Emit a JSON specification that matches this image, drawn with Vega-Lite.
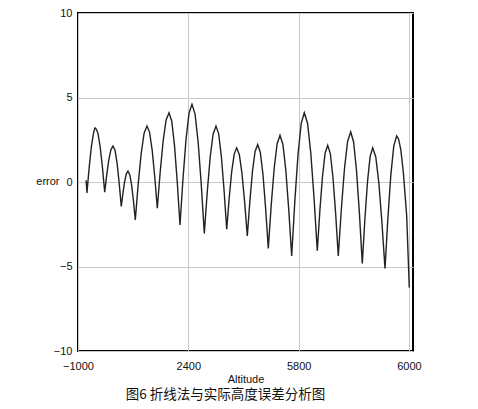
{
  "$schema": "https://vega.github.io/schema/vega-lite/v6.json",
  "width": 335,
  "height": 338,
  "autosize": {"type": "none"},
  "padding": {"left": 78, "top": 13, "right": 65, "bottom": 58},
  "background": "white",
  "title": {
    "text": "图6  折线法与实际高度误差分析图",
    "orient": "bottom",
    "anchor": "middle",
    "dx": -20,
    "offset": 4,
    "font": "Noto Sans CJK SC",
    "fontSize": 13.5,
    "fontWeight": "normal",
    "color": "#111"
  },
  "config": {
    "view": {"stroke": "#000", "strokeWidth": 2},
    "axis": {
      "labelFont": "Liberation Sans",
      "labelFontSize": 11,
      "labelColor": "#111",
      "titleFont": "Liberation Sans",
      "titleFontSize": 11,
      "titleFontWeight": "normal",
      "titleColor": "#111",
      "gridColor": "#c8c8c8",
      "gridWidth": 1,
      "ticks": false,
      "domain": false
    }
  },
  "data": {
    "values": [
      {"a": -750, "e": 0.1}, {"a": -735, "e": -0.3}, {"a": -725, "e": -0.65},
      {"a": -657, "e": 0.82}, {"a": -590, "e": 2.06}, {"a": -522, "e": 2.89}, {"a": -480, "e": 3.2}, {"a": -454, "e": 3.18}, {"a": -420, "e": 3.05}, {"a": -385, "e": 2.89}, {"a": -316, "e": 2.07}, {"a": -246, "e": 0.85},
      {"a": -177, "e": -0.6},
      {"a": -113, "e": 0.45}, {"a": -49, "e": 1.33}, {"a": 15, "e": 1.92}, {"a": 79, "e": 2.13}, {"a": 143, "e": 1.86}, {"a": 207, "e": 1.08}, {"a": 270, "e": -0.08},
      {"a": 334, "e": -1.45},
      {"a": 386, "e": -0.65}, {"a": 438, "e": 0.03}, {"a": 489, "e": 0.48}, {"a": 541, "e": 0.64}, {"a": 597, "e": 0.42}, {"a": 654, "e": -0.2}, {"a": 710, "e": -1.14},
      {"a": 766, "e": -2.24},
      {"a": 856, "e": -0.11}, {"a": 947, "e": 1.68}, {"a": 1037, "e": 2.89}, {"a": 1127, "e": 3.31}, {"a": 1206, "e": 2.94}, {"a": 1286, "e": 1.89}, {"a": 1365, "e": 0.31},
      {"a": 1444, "e": -1.55},
      {"a": 1534, "e": 0.61}, {"a": 1625, "e": 2.44}, {"a": 1715, "e": 3.67}, {"a": 1805, "e": 4.1}, {"a": 1890, "e": 3.6}, {"a": 1975, "e": 2.15}, {"a": 2059, "e": 0.0},
      {"a": 2144, "e": -2.54},
      {"a": 2236, "e": 0.19}, {"a": 2329, "e": 2.51}, {"a": 2421, "e": 4.06}, {"a": 2513, "e": 4.6}, {"a": 2608, "e": 4.02}, {"a": 2703, "e": 2.36}, {"a": 2798, "e": -0.11},
      {"a": 2893, "e": -3.04},
      {"a": 2983, "e": -0.61}, {"a": 3073, "e": 1.45}, {"a": 3163, "e": 2.83}, {"a": 3253, "e": 3.31}, {"a": 3336, "e": 2.85}, {"a": 3418, "e": 1.52}, {"a": 3501, "e": -0.46},
      {"a": 3583, "e": -2.8},
      {"a": 3660, "e": -0.95}, {"a": 3737, "e": 0.61}, {"a": 3814, "e": 1.65}, {"a": 3891, "e": 2.02}, {"a": 3973, "e": 1.62}, {"a": 4055, "e": 0.49}, {"a": 4136, "e": -1.19},
      {"a": 4218, "e": -3.19},
      {"a": 4298, "e": -1.12}, {"a": 4378, "e": 0.64}, {"a": 4458, "e": 1.81}, {"a": 4538, "e": 2.22}, {"a": 4620, "e": 1.75}, {"a": 4702, "e": 0.42}, {"a": 4783, "e": -1.57},
      {"a": 4865, "e": -3.93},
      {"a": 4955, "e": -1.37}, {"a": 5046, "e": 0.8}, {"a": 5136, "e": 2.25}, {"a": 5226, "e": 2.76}, {"a": 5316, "e": 2.22}, {"a": 5406, "e": 0.67}, {"a": 5496, "e": -1.65},
      {"a": 5586, "e": -4.38},
      {"a": 5683, "e": -1.13}, {"a": 5781, "e": 1.62}, {"a": 5878, "e": 3.46}, {"a": 5975, "e": 4.1}, {"a": 6075, "e": 3.48}, {"a": 6175, "e": 1.71}, {"a": 6275, "e": -0.94},
      {"a": 6375, "e": -4.07},
      {"a": 6455, "e": -1.68}, {"a": 6536, "e": 0.34}, {"a": 6616, "e": 1.7}, {"a": 6696, "e": 2.17}, {"a": 6778, "e": 1.67}, {"a": 6859, "e": 0.25}, {"a": 6941, "e": -1.87},
      {"a": 7022, "e": -4.38},
      {"a": 7118, "e": -1.57}, {"a": 7214, "e": 0.81}, {"a": 7309, "e": 2.4}, {"a": 7405, "e": 2.96}, {"a": 7494, "e": 2.37}, {"a": 7584, "e": 0.68}, {"a": 7673, "e": -1.84},
      {"a": 7762, "e": -4.82},
      {"a": 7842, "e": -2.2}, {"a": 7923, "e": 0.02}, {"a": 8003, "e": 1.5}, {"a": 8083, "e": 2.02}, {"a": 8178, "e": 1.48}, {"a": 8273, "e": -0.07}, {"a": 8367, "e": -2.39},
      {"a": 8462, "e": -5.12},
      {"a": 8552, "e": -2.12}, {"a": 8642, "e": 0.42}, {"a": 8732, "e": 2.12}, {"a": 8822, "e": 2.72}, {"a": 8880, "e": 2.55}, {"a": 8950, "e": 1.9}, {"a": 9026, "e": 0.6}, {"a": 9130, "e": -2.0}, {"a": 9211, "e": -6.25}
    ]
  },
  "mark": {"type": "line", "color": "#222", "strokeWidth": 1.4},
  "encoding": {
    "x": {
      "field": "a",
      "type": "quantitative",
      "scale": {"domain": [-1000, 9325], "nice": false, "zero": false},
      "axis": {
        "values": [-1000, 2400, 5800, 9200],
        "labelExpr": "datum.value == 9200 ? '6000' : replace(datum.label, ',', '')",
        "labelPadding": 9,
        "title": "Altitude",
        "titlePadding": 2,
        "labelFlush": false
      }
    },
    "y": {
      "field": "e",
      "type": "quantitative",
      "scale": {"domain": [-10, 10], "nice": false},
      "axis": {
        "values": [-10, -5, 0, 5, 10],
        "labelPadding": 6,
        "title": "error",
        "titleAngle": 0,
        "titleAlign": "right",
        "titleBaseline": "middle",
        "titleX": -19,
        "titleY": 168
      }
    }
  }
}
